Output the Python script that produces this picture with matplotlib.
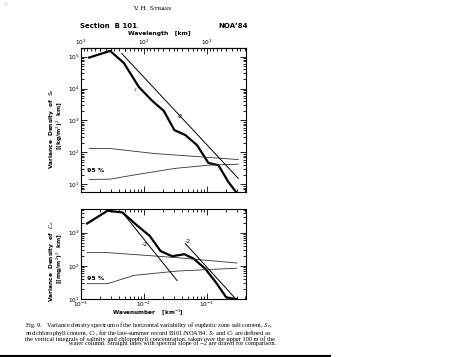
import numpy as np
import matplotlib
matplotlib.use("Agg")
import matplotlib.pyplot as plt
from matplotlib.ticker import LogLocator, NullFormatter

# ----- data -----
# salt content spectrum S_e
k_s = [1.35e-3, 2.9e-3, 4.8e-3, 8.3e-3, 0.0136, 0.0207, 0.0305, 0.0456, 0.0698, 0.106, 0.153, 0.22, 0.316]
s_e = [9.3e4, 1.5e5, 6.3e4, 1.12e4, 4.1e3, 2.0e3, 500, 350, 170, 47, 40, 12, 4.7]
s_up_k = [1.35e-3, 2.9e-3, 0.0144, 0.316]
s_up = [133, 133, 93, 60]
s_lo_k = [1.35e-3, 2.9e-3, 6.2e-3, 0.0305, 0.106, 0.316]
s_lo = [14.3, 14.6, 19, 31.6, 40, 43]
s_ref_k = [4.45e-3, 0.316]
s_ref = [1.24e5, 15.5]

# chlorophyll content spectrum C_e
k_c = [1.25e-3, 2.64e-3, 4.56e-3, 7.4e-3, 0.0124, 0.0184, 0.0281, 0.044, 0.0617, 0.0944, 0.1445, 0.203, 0.30]
c_e = [1900, 4600, 4100, 1800, 800, 280, 195, 225, 165, 82, 29, 11.3, 9.8]
c_up_k = [1.25e-3, 2.64e-3, 0.0337, 0.30]
c_up = [251, 251, 177, 122]
c_lo_k = [1.25e-3, 2.64e-3, 6.95e-3, 0.0337, 0.30]
c_lo = [29, 29, 51.6, 69.6, 85]
c_ref1_k = [4.56e-3, 0.0337]
c_ref1 = [4090, 36]
c_ref2_k = [0.0456, 0.291]
c_ref2 = [471, 9.9]

caption = [
    "Fig. 9.   Variance density spectrum of the horizontal variability of euphotic zone salt content, $S_e$,",
    "and chlorophyll content, $C_e$, for the late-summer record B101/NOA'84. $S_e$ and $C_e$ are defined as",
    "the vertical integrals of salinity and chlorophyll concentration, taken over the upper 100 m of the",
    " " * 27 + "water column. Straight lines with spectral slope of \u22122 are drawn for comparison.",
]

W, H = 476, 357


def fx(x):
    return x / W


def fy(y):
    return 1 - y / H


plt.rcParams["mathtext.fontset"] = "dejavusans"
fig = plt.figure(figsize=(W / 100, H / 100), dpi=100)
fig.patch.set_facecolor("white")

ax1 = fig.add_axes([fx(81), fy(192), fx(246) - fx(81), fy(48) - fy(192)])
ax2 = fig.add_axes([fx(81), fy(299), fx(246) - fx(81), fy(209) - fy(299)])


def style(ax):
    ax.set_xscale("log")
    ax.set_yscale("log")
    ax.set_xlim(1e-3, 0.42)
    ax.yaxis.set_minor_locator(LogLocator(base=10, subs=np.arange(2, 10)))
    ax.yaxis.set_minor_formatter(NullFormatter())
    ax.xaxis.set_minor_formatter(NullFormatter())
    ax.tick_params(which="both", direction="in", right=True, top=True,
                   labelsize=4.2, width=0.6, pad=1.0)
    ax.tick_params(which="major", length=4)
    ax.tick_params(which="minor", length=2.2)
    for sp in ax.spines.values():
        sp.set_linewidth(0.8)


for ax in (ax1, ax2):
    style(ax)

# top panel
ax1.plot(k_s, s_e, color="black", lw=1.6)
ax1.plot(s_up_k, s_up, color="#333333", lw=0.6)
ax1.plot(s_lo_k, s_lo, color="#333333", lw=0.6)
ax1.plot(s_ref_k, s_ref, color="black", lw=0.7)
ax1.set_ylim(5.8, 1.85e5)
ax1.tick_params(labelbottom=False, top=False)
ax1.text(0.0375, 1350, "-2", fontsize=4.5, ha="center", va="center")
ax1.text(1.25e-3, 28, "95 %", fontsize=4.5, fontweight="bold", ha="left", va="center")
ax1.text(7.0e-3, 9000, "1", fontsize=3, ha="center", va="center", rotation=-30)
ax1.text(7.8e-3, 6500, ",", fontsize=3, ha="center", va="center")

sec = ax1.secondary_xaxis("top", functions=(lambda x: 1 / np.maximum(x, 1e-12),
                                             lambda x: 1 / np.maximum(x, 1e-12)))
sec.tick_params(which="both", direction="in", labelsize=4.2, width=0.6, pad=1.0)
sec.tick_params(which="major", length=4)
sec.tick_params(which="minor", length=2.2)
sec.xaxis.set_minor_formatter(NullFormatter())

# bottom panel
ax2.plot(k_c, c_e, color="black", lw=1.6)
ax2.plot(c_up_k, c_up, color="#333333", lw=0.6)
ax2.plot(c_lo_k, c_lo, color="#333333", lw=0.6)
ax2.plot(c_ref1_k, c_ref1, color="black", lw=0.7)
ax2.plot(c_ref2_k, c_ref2, color="black", lw=0.7)
ax2.set_ylim(10, 5200)
ax2.tick_params(axis="x", pad=0.5)
ax2.text(0.0103, 430, "-2", fontsize=4.5, ha="center", va="center")
ax2.text(0.0505, 540, "-2", fontsize=4.5, ha="center", va="center")
ax2.text(1.25e-3, 42, "95 %", fontsize=4.5, fontweight="bold", ha="left", va="center")

# axis titles
fig.text(fx(80), fy(25.5), "Section  B 101", fontsize=5, fontweight="bold", ha="left", va="center")
fig.text(fx(248), fy(25.5), "NOA\u02bc84", fontsize=5, fontweight="bold", ha="right", va="center")
fig.text(fx(159), fy(33.5), "Wavelength   [km]", fontsize=4.3, fontweight="bold", ha="center", va="center")
fig.text(fx(148), fy(312.5), "Wavenumber    [km$^{-1}$]", fontsize=4.1, fontweight="bold", ha="center", va="center")

fig.text(fx(51.5), fy(128), "Variance  Density  of  $S_e$", fontsize=4.2, fontweight="bold",
         rotation=90, ha="center", va="center")
fig.text(fx(60), fy(126), "[(kg/m$^2$)$^2$  km]", fontsize=4.2, fontweight="bold",
         rotation=90, ha="center", va="center")
fig.text(fx(51), fy(261), "Variance  Density  of  $C_e$", fontsize=4.2, fontweight="bold",
         rotation=90, ha="center", va="center")
fig.text(fx(59.5), fy(259), "[(mg/m$^2$)$^2$  km]", fontsize=4.2, fontweight="bold",
         rotation=90, ha="center", va="center")

# page header and caption
fig.text(fx(152), fy(8.5), "V. H. S\u1d1b\u0280\u1d00ss", fontsize=4.5, family="DejaVu Serif",
         ha="center", va="center")
fig.text(fx(4), fy(4), ":", fontsize=4, ha="left", va="center")
fig.text(fx(25), fy(320), "\n".join(caption), fontsize=4.55, family="Liberation Serif",
         math_fontfamily="stix", ha="left", va="top", linespacing=0.68)
fig.add_artist(plt.Line2D([0, fx(330)], [fy(356), fy(356)], color="black", lw=1.5))

fig.savefig("out.png", dpi=100, facecolor="white")
